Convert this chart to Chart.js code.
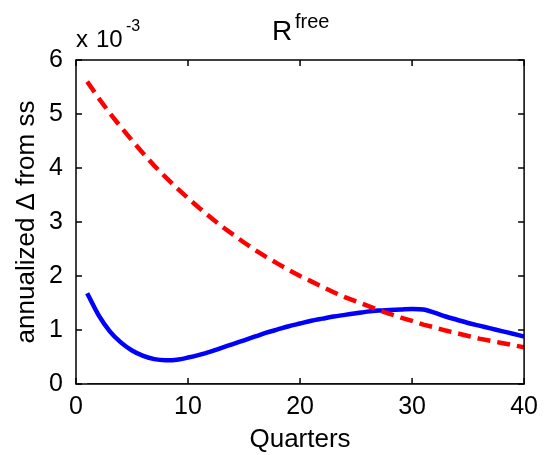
<!DOCTYPE html>
<html>
<head>
<meta charset="utf-8">
<script src="https://cdn.jsdelivr.net/npm/chart.js@4"></script>
<style>
  html, body { margin: 0; padding: 0; background: #fff; }
  #wrap { width: 546px; height: 455px; }
</style>
</head>
<body>
<div id="wrap"><canvas id="rfree" width="546" height="455"></canvas></div>
<script>
// Quarters after the shock
const quarters = [1, 2, 3, 4, 5, 6, 7, 8, 9, 10, 11, 12, 13, 14, 15, 16, 17, 18, 19, 20,
    21, 22, 23, 24, 25, 26, 27, 28, 29, 30, 31, 32, 33, 34, 35, 36, 37, 38, 39, 40];

// Responses, annualized deviation from steady state (x 10^-3)
const solidResp = [1.68, 1.28, 0.98, 0.77, 0.62, 0.52, 0.46, 0.44, 0.45, 0.49,
    0.54, 0.60, 0.67, 0.74, 0.81, 0.88, 0.95, 1.01, 1.07, 1.12,
    1.17, 1.21, 1.25, 1.28, 1.31, 1.34, 1.36, 1.37, 1.38, 1.39,
    1.38, 1.32, 1.25, 1.19, 1.13, 1.08, 1.03, 0.98, 0.93, 0.88];
const dashedResp = [5.60, 5.30, 5.02, 4.76, 4.51, 4.27, 4.04, 3.83, 3.63, 3.44,
    3.26, 3.09, 2.92, 2.77, 2.62, 2.48, 2.35, 2.23, 2.11, 2.00,
    1.90, 1.80, 1.70, 1.61, 1.53, 1.45, 1.37, 1.30, 1.23, 1.17,
    1.10, 1.05, 0.99, 0.94, 0.89, 0.84, 0.80, 0.76, 0.72, 0.68];
const zeroLine = [0, 0, 0, 0, 0, 0, 0, 0, 0, 0, 0, 0, 0, 0, 0, 0, 0, 0, 0, 0,
    0, 0, 0, 0, 0, 0, 0, 0, 0, 0, 0, 0, 0, 0, 0, 0, 0, 0, 0, 0];

// Axis ticks
const xTicks = [0, 10, 20, 30, 40];
const yTicks = [0, 1, 2, 3, 4, 5, 6];

const FONT = '"Liberation Sans", Arial, Helvetica, sans-serif';

function toPoints(ys) {
    return quarters.map((q, i) => ({ x: q, y: ys[i] }));
}

// Box around the axes with inward ticks, plus title and exponent label
const matlabAxes = {
    id: 'matlabAxes',
    afterDraw(chart) {
        const { ctx, chartArea: a, scales } = chart;
        const len = 6;
        ctx.save();
        ctx.strokeStyle = '#000';
        ctx.lineWidth = 1.5;
        ctx.strokeRect(a.left, a.top, a.right - a.left, a.bottom - a.top);
        ctx.beginPath();
        xTicks.forEach(v => {
            const px = scales.x.getPixelForValue(v);
            ctx.moveTo(px, a.bottom); ctx.lineTo(px, a.bottom - len);
            ctx.moveTo(px, a.top); ctx.lineTo(px, a.top + len);
        });
        yTicks.forEach(v => {
            const py = scales.y.getPixelForValue(v);
            ctx.moveTo(a.left, py); ctx.lineTo(a.left + len, py);
            ctx.moveTo(a.right, py); ctx.lineTo(a.right - len, py);
        });
        ctx.stroke();

        ctx.fillStyle = '#000';
        ctx.textBaseline = 'alphabetic';
        ctx.textAlign = 'left';
        // title R^free
        ctx.font = '28px ' + FONT;
        ctx.fillText('R', 272, 40);
        ctx.font = '20px ' + FONT;
        ctx.fillText('free', 295, 28);
        // exponent "x 10^-3"
        ctx.font = '24px ' + FONT;
        ctx.fillText('x', 76, 47);
        ctx.fillText('10', 96, 47);
        ctx.font = '16px ' + FONT;
        ctx.fillText('-3', 126, 31);
        ctx.restore();
    }
};

new Chart(document.getElementById('rfree'), {
    type: 'line',
    data: {
        datasets: [
            {
                label: 'zero',
                data: toPoints(zeroLine),
                borderColor: '#cc0000',
                borderWidth: 2,
                pointRadius: 0
            },
            {
                label: 'dashed',
                data: toPoints(dashedResp),
                borderColor: '#ff0000',
                borderWidth: 4.5,
                borderDash: [13, 7],
                pointRadius: 0,
                tension: 0
            },
            {
                label: 'solid',
                data: toPoints(solidResp),
                borderColor: '#0000ff',
                borderWidth: 4.5,
                pointRadius: 0,
                tension: 0.3
            }
        ]
    },
    options: {
        responsive: false,
        animation: false,
        layout: { padding: { top: 60, right: 19, left: 0, bottom: 0 } },
        plugins: {
            legend: { display: false },
            tooltip: { enabled: false }
        },
        scales: {
            x: {
                type: 'linear',
                min: 0,
                max: 40,
                grid: { display: false, drawTicks: false },
                border: { display: false },
                afterFit(s) { s.height = 71; },
                afterBuildTicks(s) { s.ticks = xTicks.map(v => ({ value: v })); },
                ticks: {
                    color: '#000',
                    padding: 8,
                    maxRotation: 0,
                    font: { family: FONT, size: 25 }
                },
                title: {
                    display: true,
                    text: 'Quarters',
                    color: '#000',
                    padding: { top: 0, bottom: 0 },
                    font: { family: FONT, size: 26 }
                }
            },
            y: {
                min: 0,
                max: 6,
                grid: { display: false, drawTicks: false },
                border: { display: false },
                afterFit(s) { s.width = 76; },
                afterBuildTicks(s) { s.ticks = yTicks.map(v => ({ value: v })); },
                ticks: {
                    color: '#000',
                    padding: 13,
                    font: { family: FONT, size: 25 }
                },
                title: {
                    display: true,
                    text: 'annualized \u0394 from ss',
                    color: '#000',
                    padding: { top: 11, bottom: 0 },
                    font: { family: FONT, size: 26 }
                }
            }
        }
    },
    plugins: [matlabAxes]
});
</script>
</body>
</html>
